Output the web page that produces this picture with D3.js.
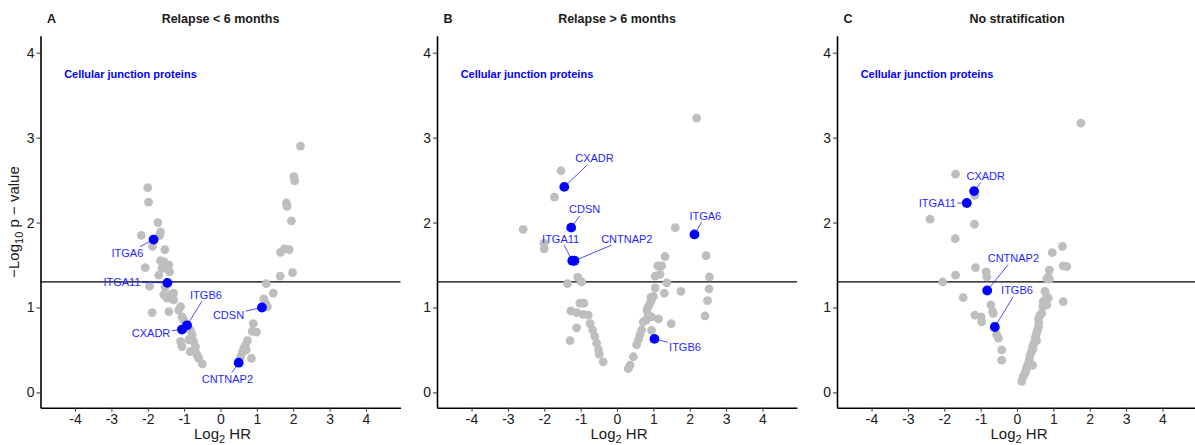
<!DOCTYPE html>
<html>
<head>
<meta charset="utf-8">
<script src="https://cdn.jsdelivr.net/npm/d3@7"></script>
<style>
  html, body { margin: 0; padding: 0; background: #fff; }
  svg { display: block; font-family: "Liberation Sans", Arial, sans-serif; }
</style>
</head>
<body>
<svg id="chart" width="1195" height="445"></svg>
<script>
// ---------------- DATA ----------------
const panelTags = ["A", "B", "C"];
const panelTitles = ["Relapse < 6 months", "Relapse > 6 months", "No stratification"];
const xTicks = [-4, -3, -2, -1, 0, 1, 2, 3, 4];
const yTicks = [0, 1, 2, 3, 4];
const pThreshold = 0.05;
const annotationText = "Cellular junction proteins";

// gray points: [log2 HR, -log10 p]
const grayA = [
  [-2.00,2.41],[-1.98,2.24],[-1.72,2.00],[-1.65,1.89],[-1.67,1.85],[-2.18,1.85],[-1.87,1.72],
  [-1.53,1.68],[-1.65,1.55],[-1.56,1.54],[-1.42,1.50],[-2.07,1.47],[-1.61,1.46],[-1.40,1.42],
  [-1.70,1.38],[-1.95,1.25],[-1.52,1.24],[-1.56,1.15],[-1.38,1.15],[-1.29,1.17],[-1.47,1.11],
  [-1.29,1.09],[-1.10,1.01],[-1.15,0.97],[-1.88,0.94],[-1.42,0.95],[-1.06,0.89],[-1.01,0.85],
  [-0.83,0.735],[-0.78,0.68],[-0.87,0.62],[-0.74,0.60],[-0.69,0.54],[-1.10,0.60],[-1.06,0.54],
  [-0.83,0.48],[-0.69,0.48],[-0.64,0.44],[-0.60,0.40],[-0.50,0.335],
  [2.20,2.90],[2.02,2.54],[2.04,2.49],[1.81,2.23],[1.83,2.19],[1.95,2.02],[1.65,1.65],
  [1.76,1.69],[1.89,1.68],[1.64,1.37],[1.98,1.41],[1.26,1.28],[1.45,1.17],[1.19,1.10],
  [1.24,1.05],[1.29,1.01],[0.90,0.81],[0.87,0.72],[0.99,0.71],[0.74,0.61],[0.69,0.56],
  [0.64,0.52],[0.71,0.50],[0.60,0.47],[0.85,0.40],[0.55,0.42]
];
const grayB = [
  [2.19,3.23],[-1.54,2.61],[-1.72,2.30],[-2.58,1.92],[1.60,1.94],[-2.01,1.755],[-2.00,1.69],
  [1.32,1.60],[2.45,1.61],[1.12,1.49],[1.23,1.49],[1.05,1.37],[1.18,1.39],[2.54,1.36],
  [-1.08,1.355],[-1.36,1.28],[-0.97,1.30],[1.37,1.29],[1.05,1.23],[1.30,1.17],[1.76,1.19],
  [2.53,1.22],[0.93,1.12],[1.00,1.13],[0.95,1.09],[2.49,1.08],[0.91,1.05],[0.86,1.01],
  [0.82,0.97],[0.86,0.91],[0.95,0.89],[1.14,0.865],[2.42,0.90],[0.72,0.83],[0.80,0.85],
  [1.49,0.81],[0.95,0.73],[0.68,0.735],[0.63,0.68],[0.59,0.62],[0.54,0.56],[0.45,0.42],
  [0.36,0.32],[0.31,0.28],
  [-0.91,1.05],[-1.02,1.05],[-1.27,0.96],[-1.11,0.94],[-0.93,0.92],[-0.79,0.91],[-0.74,0.81],
  [-0.67,0.735],[-0.61,0.66],[-0.56,0.58],[-0.51,0.50],[-0.49,0.45],[-0.38,0.36],
  [-1.11,0.76],[-1.29,0.61]
];
const grayC = [
  [-1.69,2.57],[-1.16,2.32],[-2.39,2.04],[-1.17,1.98],[-1.70,1.81],[-1.14,1.47],[-0.85,1.42],
  [-0.83,1.36],[-1.69,1.38],[-2.04,1.30],[-1.48,1.115],[-0.72,1.03],[-0.67,0.95],[-0.65,0.93],
  [-1.16,0.91],[-0.99,0.89],[-0.97,0.83],[-0.56,0.68],[-0.51,0.64],[-0.42,0.50],[-0.42,0.38],
  [1.76,3.17],[1.25,1.72],[0.97,1.645],[1.27,1.49],[1.37,1.48],[0.89,1.44],[0.86,1.36],
  [0.89,1.335],[0.82,1.34],[0.77,1.19],[0.82,1.13],[0.72,1.07],[0.82,1.03],[0.71,1.01],
  [1.27,1.07],[0.86,1.11],[0.63,0.91],[0.68,0.93],[0.59,0.87],[0.59,0.77],[0.56,0.735],
  [0.54,0.70],[0.50,0.64],[0.47,0.58],[0.43,0.54],[0.40,0.48],[0.36,0.44],[0.34,0.385],
  [0.31,0.34],[0.27,0.30],[0.25,0.265],[0.22,0.225],[0.17,0.185],[0.13,0.13],[0.43,0.32],
  [0.60,0.82],[0.52,0.67],[0.44,0.51],[0.54,0.61]
];

// highlighted genes: gene, log2 HR, -log10 p, label position (data units)
const geneA = [
  {gene:"ITGA6",   x:-1.84, y:1.80, lx:-2.56, ly:1.64},
  {gene:"ITGA11",  x:-1.46, y:1.29, lx:-2.71, ly:1.30},
  {gene:"ITGB6",   x:-0.92, y:0.79, lx:-0.40, ly:1.15},
  {gene:"CXADR",   x:-1.06, y:0.74, lx:-1.91, ly:0.70},
  {gene:"CDSN",    x: 1.14, y:1.00, lx: 0.22, ly:0.91},
  {gene:"CNTNAP2", x: 0.50, y:0.35, lx: 0.19, ly:0.155}
];
const geneB = [
  {gene:"CXADR",   x:-1.45, y:2.42, lx:-0.62, ly:2.76},
  {gene:"CDSN",    x:-1.26, y:1.94, lx:-0.89, ly:2.155},
  {gene:"ITGA11",  x:-1.23, y:1.55, lx:-1.55, ly:1.81},
  {gene:"CNTNAP2", x:-1.17, y:1.55, lx: 0.27, ly:1.81},
  {gene:"ITGA6",   x: 2.13, y:1.86, lx: 2.43, ly:2.08},
  {gene:"ITGB6",   x: 1.03, y:0.63, lx: 1.87, ly:0.54}
];
const geneC = [
  {gene:"CXADR",   x:-1.18, y:2.37, lx:-0.86, ly:2.55},
  {gene:"ITGA11",  x:-1.38, y:2.23, lx:-2.19, ly:2.23},
  {gene:"CNTNAP2", x:-0.82, y:1.20, lx:-0.10, ly:1.58},
  {gene:"ITGB6",   x:-0.61, y:0.77, lx: 0.00, ly:1.20}
];

const grayData = [grayA, grayB, grayC];
const geneData = [geneA, geneB, geneC];

// ---------------- LAYOUT ----------------
const svg = d3.select("#chart");
const panelLeft = [40.5, 437, 837];
const panelWidth = 360;
const plotTop = 35.7, plotBottom = 407.7;
const xDomain = [-4.95, 4.95];
const yDomain = [-0.18, 4.2];
const GRAY = "#BEBEBE", BLUE = "#0000FF";

panelTags.forEach((tag, i) => {
  const L = panelLeft[i];
  const x = d3.scaleLinear().domain(xDomain).range([L, L + panelWidth]);
  const y = d3.scaleLinear().domain(yDomain).range([plotBottom, plotTop]);
  const g = svg.append("g");

  // threshold line
  g.append("line")
    .attr("x1", L).attr("x2", Math.min(L + panelWidth, 1195))
    .attr("y1", y(-Math.log10(pThreshold))).attr("y2", y(-Math.log10(pThreshold)))
    .attr("stroke", "#000").attr("stroke-width", 1.1);

  // axes
  const xa = g.append("g").attr("transform", `translate(0,${plotBottom})`)
    .call(d3.axisBottom(x).tickValues(xTicks).tickSize(4).tickSizeOuter(0).tickPadding(2)
      .tickFormat(d => String(d)));
  const ya = g.append("g").attr("transform", `translate(${L},0)`)
    .call(d3.axisLeft(y).tickValues(yTicks).tickSize(4).tickSizeOuter(0).tickPadding(2)
      .tickFormat(d => String(d)));
  [xa, ya].forEach(a => {
    a.select(".domain").attr("stroke", "#000").attr("stroke-width", 1.6);
    a.selectAll(".tick line").attr("stroke", "#333").attr("stroke-width", 1);
    a.selectAll(".tick text").attr("fill", "#1a1a1a").style("font-size", "14px")
      .style("font-family", "'Liberation Sans', Arial, sans-serif");
  });

  // points
  g.append("g").selectAll("circle").data(grayData[i]).join("circle")
    .attr("cx", d => x(d[0])).attr("cy", d => y(d[1])).attr("r", 4.4)
    .attr("fill", GRAY);
  g.append("g").selectAll("circle").data(geneData[i]).join("circle")
    .attr("cx", d => x(d.x)).attr("cy", d => y(d.y)).attr("r", 4.9)
    .attr("fill", BLUE);

  // labels with segments
  const segG = g.append("g");
  const labG = g.append("g");
  geneData[i].forEach(d => {
    const t = labG.append("text")
      .attr("x", x(d.lx)).attr("y", y(d.ly))
      .attr("text-anchor", "middle").attr("dy", "0.36em")
      .attr("fill", "#1f1fff").style("font-size", "11px").text(d.gene);
    const bb = t.node().getBBox();
    const pad = 1.5;
    const bx1 = bb.x - pad, bx2 = bb.x + bb.width + pad;
    const by1 = bb.y + 1 - pad, by2 = bb.y + bb.height - 1 + pad;
    const cx = (bx1 + bx2) / 2, cy = (by1 + by2) / 2;
    const px = x(d.x), py = y(d.y);
    const dx = px - cx, dy = py - cy;
    if (px > bx1 && px < bx2 && py > by1 && py < by2) return;
    const tx = dx === 0 ? Infinity : (dx > 0 ? (bx2 - cx) / dx : (bx1 - cx) / dx);
    const ty = dy === 0 ? Infinity : (dy > 0 ? (by2 - cy) / dy : (by1 - cy) / dy);
    const tt = Math.min(tx, ty);
    segG.append("line")
      .attr("x1", px).attr("y1", py)
      .attr("x2", cx + tt * dx).attr("y2", cy + tt * dy)
      .attr("stroke", BLUE).attr("stroke-width", 0.7);
  });

  // annotation
  g.append("text")
    .attr("x", x(-4.3)).attr("y", y(3.75)).attr("dy", "0.36em")
    .attr("fill", BLUE).style("font-size", "11px").style("font-weight", "bold")
    .text(annotationText);

  // title and tag
  g.append("text")
    .attr("x", L + panelWidth / 2).attr("y", 22.5)
    .attr("text-anchor", "middle").style("font-size", "12.5px").style("font-weight", "bold")
    .attr("fill", "#1a1a1a").text(panelTitles[i]);
  g.append("text")
    .attr("x", L + 6.5).attr("y", 22.5)
    .style("font-size", "12.5px").style("font-weight", "bold")
    .attr("fill", "#1a1a1a").text(tag);

  // x axis title
  const xt = g.append("text")
    .attr("x", L + panelWidth / 2 + 2).attr("y", 439)
    .attr("text-anchor", "middle").style("font-size", "15px").attr("fill", "#1a1a1a");
  xt.append("tspan").text("Log");
  xt.append("tspan").attr("dy", 4).style("font-size", "11px").text("2");
  xt.append("tspan").attr("dy", -4).text(" HR");
});

// y axis title (panel A only)
const yt = svg.append("text")
  .attr("transform", `translate(19,${222}) rotate(-90)`)
  .attr("text-anchor", "middle").style("font-size", "15px").attr("fill", "#1a1a1a");
yt.append("tspan").text("\u2212Log");
yt.append("tspan").attr("dy", 4).style("font-size", "11px").text("10");
yt.append("tspan").attr("dy", -4).text(" p \u2212 value");
</script>
</body>
</html>
